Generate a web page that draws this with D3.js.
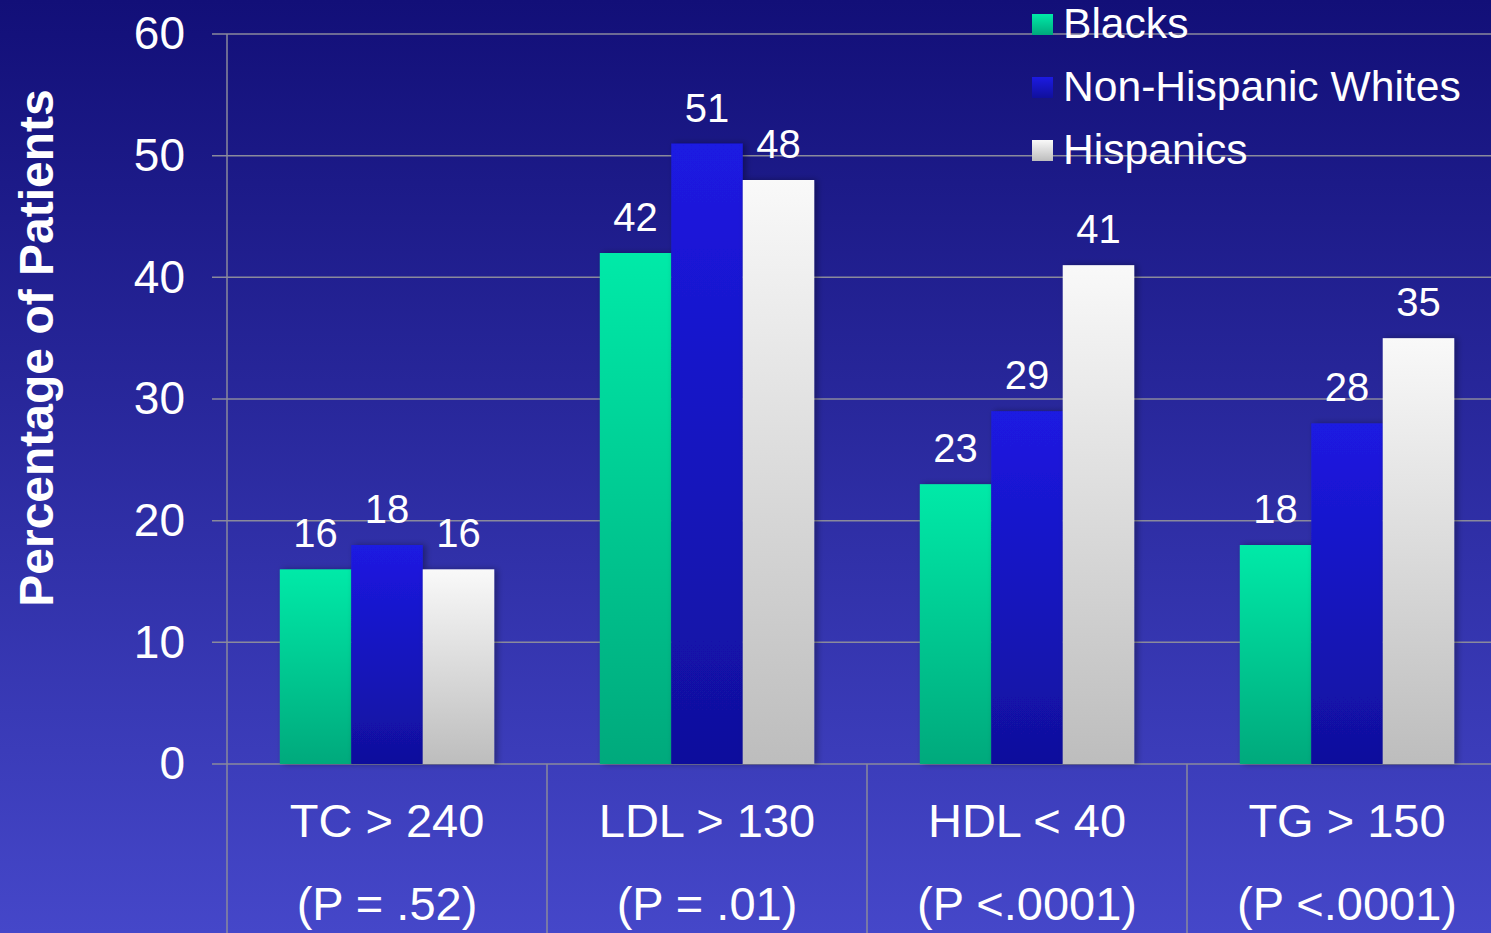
<!DOCTYPE html>
<html>
<head>
  <meta charset="utf-8">
  <title>Lipid abnormalities by ethnicity</title>
  <script src="https://cdnjs.cloudflare.com/ajax/libs/d3/7.8.5/d3.min.js"></script>
  <style>
    html, body { margin: 0; padding: 0; overflow: hidden; }
    text { font-family: "Liberation Sans", Arial, sans-serif; fill: #fff; }
  </style>
</head>
<body>
<div id="chart"></div>
<script>

var categories = ['TC > 240', 'LDL > 130', 'HDL < 40', 'TG > 150'];
var pValues = ['(P = .52)', '(P = .01)', '(P <.0001)', '(P <.0001)'];
var series = ['Blacks', 'Non-Hispanic Whites', 'Hispanics'];
var blacks = [16, 42, 23, 18];
var whites = [18, 51, 29, 28];
var hispanics = [16, 48, 41, 35];
var yTicks = [0, 10, 20, 30, 40, 50, 60];

var values = [blacks, whites, hispanics];
var W = 1491, H = 933;
var x0 = 227, y0 = 764, yTop = 34;

var svg = d3.select('#chart').append('svg')
  .attr('width', W)
  .attr('height', H);

var defs = svg.append('defs');

var bg = defs.append('linearGradient').attr('id', 'bg')
  .attr('x1', 0).attr('y1', 0).attr('x2', 0).attr('y2', 1);
bg.append('stop').attr('offset', '0%').attr('stop-color', '#120f78');
bg.append('stop').attr('offset', '100%').attr('stop-color', '#4547c9');

// top / bottom colours of each series gradient
var grads = [['#00eaa8', '#00a97c'], ['#1c1ae2', '#10109c'], ['#f9f9f9', '#bdbdbd']];
grads.forEach(function(c, i) {
  var g = defs.append('linearGradient').attr('id', 'g' + i)
    .attr('x1', 0).attr('y1', 0).attr('x2', 0).attr('y2', 1);
  g.append('stop').attr('offset', '0%').attr('stop-color', c[0]);
  g.append('stop').attr('offset', '100%').attr('stop-color', c[1]);
});

var shadow = defs.append('filter').attr('id', 'shadow')
  .attr('x', '-20%').attr('y', '-5%').attr('width', '140%').attr('height', '110%');
shadow.append('feDropShadow').attr('dx', 3).attr('dy', 0)
  .attr('stdDeviation', 3).attr('flood-color', '#000').attr('flood-opacity', 0.35);

svg.append('rect').attr('width', W).attr('height', H).attr('fill', 'url(#bg)');

var y = d3.scaleLinear().domain([0, 60]).range([y0, yTop]);

var x = d3.scaleBand()
  .domain(categories)
  .range([x0, x0 + 4 * 320])
  .paddingInner(0.33)
  .paddingOuter(0.165);

var xs = d3.scaleBand().domain(d3.range(series.length)).range([0, x.bandwidth()]);

var step = x.step();

// gridlines
svg.append('g').selectAll('line')
  .data(yTicks)
  .enter().append('line')
  .attr('x1', 212).attr('x2', W)
  .attr('y1', function(d) { return y(d); })
  .attr('y2', function(d) { return y(d); })
  .attr('stroke', '#8a8a9c').attr('stroke-width', 1.5);

// vertical axis line
svg.append('line')
  .attr('x1', x0).attr('x2', x0)
  .attr('y1', y(60)).attr('y2', y0)
  .attr('stroke', '#8a8a9c').attr('stroke-width', 1.5);

// category separators below the baseline
svg.append('g').selectAll('line')
  .data(d3.range(categories.length + 1))
  .enter().append('line')
  .attr('x1', function(i) { return x0 + i * step; })
  .attr('x2', function(i) { return x0 + i * step; })
  .attr('y1', y0).attr('y2', H)
  .attr('stroke', '#8a8a9c').attr('stroke-width', 1.5);

// y tick labels
svg.append('g').selectAll('text')
  .data(yTicks)
  .enter().append('text')
  .attr('x', 185)
  .attr('y', function(d) { return y(d); })
  .attr('dy', '0.33em')
  .attr('text-anchor', 'end')
  .style('font-size', '46px')
  .text(function(d) { return d; });

// y axis title
svg.append('text')
  .attr('transform', 'translate(53,348) rotate(-90)')
  .attr('text-anchor', 'middle')
  .style('font-size', '48px')
  .style('font-weight', 'bold')
  .text('Percentage of Patients');

// bars
var groups = svg.append('g').selectAll('g')
  .data(categories)
  .enter().append('g')
  .attr('transform', function(d) { return 'translate(' + x(d) + ',0)'; });

groups.selectAll('rect')
  .data(function(d, ci) { return values.map(function(v, si) { return {s: si, v: v[ci]}; }); })
  .enter().append('rect')
  .attr('x', function(d) { return xs(d.s); })
  .attr('y', function(d) { return y(d.v); })
  .attr('width', xs.bandwidth())
  .attr('height', function(d) { return y0 - y(d.v); })
  .attr('fill', function(d) { return 'url(#g' + d.s + ')'; })
  .attr('filter', 'url(#shadow)');

groups.selectAll('text')
  .data(function(d, ci) { return values.map(function(v, si) { return {s: si, v: v[ci]}; }); })
  .enter().append('text')
  .attr('x', function(d) { return xs(d.s) + xs.bandwidth() / 2; })
  .attr('y', function(d) { return y(d.v) - 22; })
  .attr('text-anchor', 'middle')
  .style('font-size', '40px')
  .text(function(d) { return d.v; });

// category labels
var catLabels = svg.append('g').selectAll('g')
  .data(categories)
  .enter().append('g');

catLabels.append('text')
  .attr('x', function(d) { return x(d) + x.bandwidth() / 2; })
  .attr('y', 837)
  .attr('text-anchor', 'middle')
  .style('font-size', '47px')
  .text(function(d) { return d; });

catLabels.append('text')
  .attr('x', function(d) { return x(d) + x.bandwidth() / 2; })
  .attr('y', 920)
  .attr('text-anchor', 'middle')
  .style('font-size', '47px')
  .text(function(d, i) { return pValues[i]; });

// legend
var legend = svg.append('g').selectAll('g')
  .data(series)
  .enter().append('g')
  .attr('transform', function(d, i) { return 'translate(1032,' + (38 + i * 63) + ')'; });

legend.append('rect')
  .attr('x', 0).attr('y', -24)
  .attr('width', 21).attr('height', 21)
  .attr('fill', function(d, i) { return 'url(#g' + i + ')'; });

legend.append('text')
  .attr('x', 31).attr('y', 0)
  .style('font-size', '42.6px')
  .text(function(d) { return d; });

</script>
</body>
</html>
